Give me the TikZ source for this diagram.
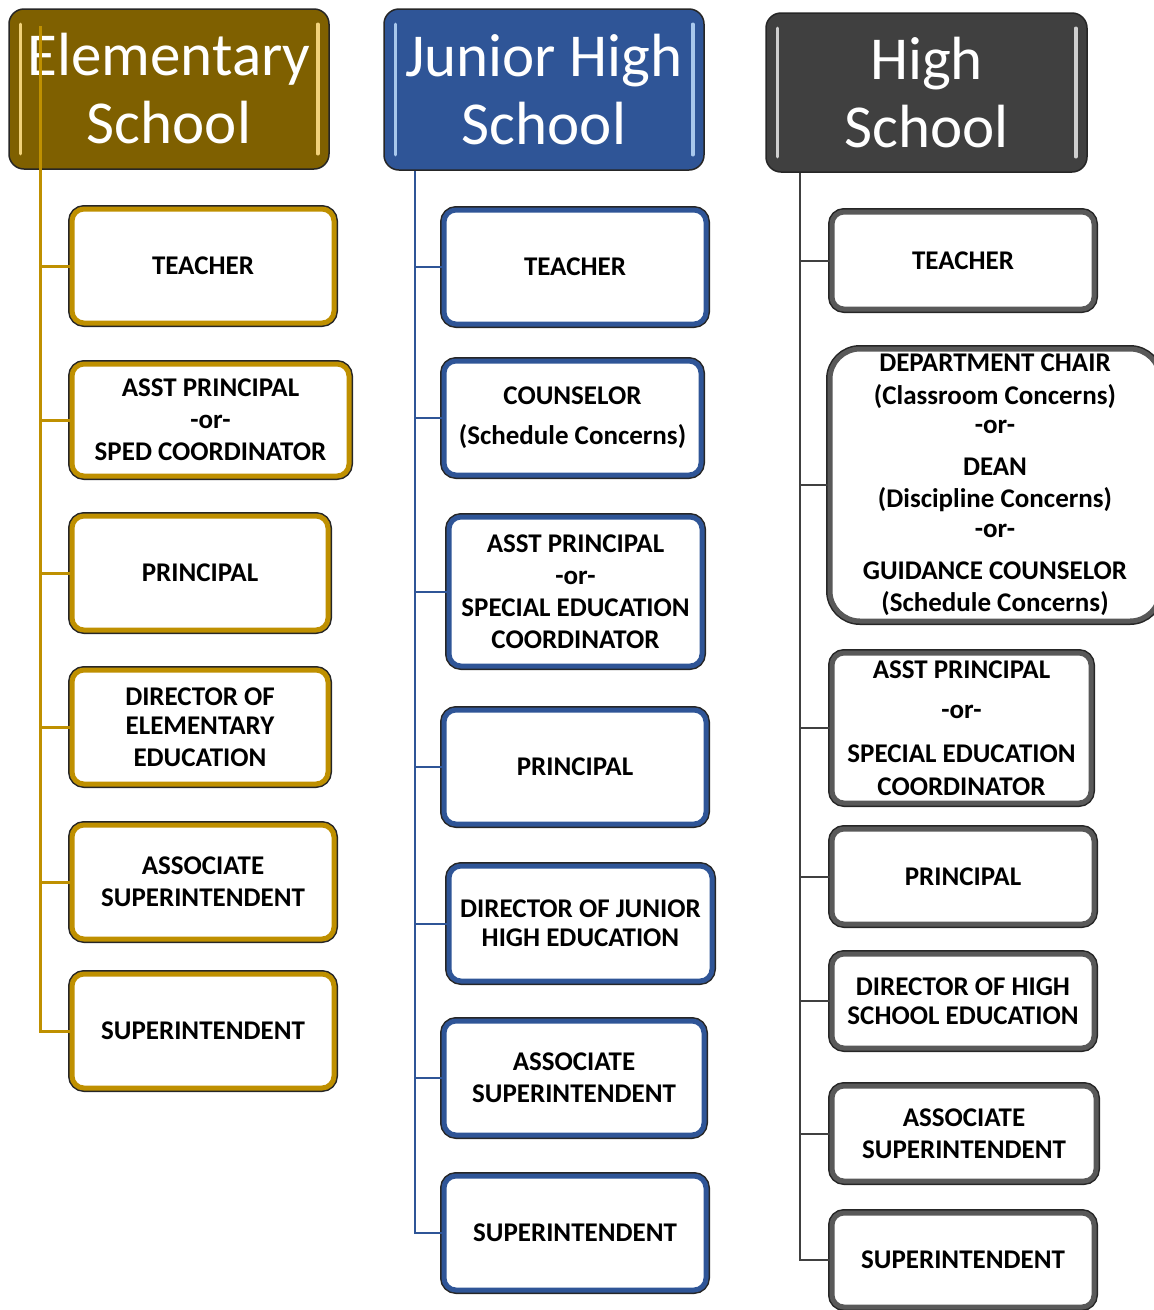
\documentclass[tikz,border=0pt]{standalone}
\usepackage{fontspec}
\setmainfont{Carlito}
\usepackage{tikz}
\usetikzlibrary{positioning}

\definecolor{elemgold}{HTML}{7F6000}
\definecolor{elemline}{HTML}{BF9000}
\definecolor{goldlight}{HTML}{F2D27A}
\definecolor{jrblue}{HTML}{2F5597}
\definecolor{jrlight}{HTML}{A9C8EC}
\definecolor{hsgray}{HTML}{404040}
\definecolor{hsline}{HTML}{595959}
\definecolor{graylight}{HTML}{CFCFCF}
\definecolor{edgedark}{HTML}{262626}

\begin{document}
\begin{tikzpicture}[x=1pt, y=-1pt,
	header/.style={fill=#1, draw=edgedark, line width=1.5pt, rounded corners=15pt, text=white, align=center, inner sep=0pt, font=\fontsize{61}{68}\selectfont},
	role/.style={fill=white, draw=#1, line width=5pt, rounded corners=12pt, align=center, inner sep=0pt, font=\fontsize{27}{32}\selectfont\bfseries, preaction={draw=edgedark, line width=8pt}},
	boxdim/.style 2 args={minimum width=#1pt, minimum height=#2pt},
	shine/.style={draw=#1, line width=3.5pt, line cap=round},
	link/.style={draw=#1, line width=2pt}]

	\useasboundingbox (0,0) rectangle (1154,1310);

	\node[header=elemgold, boxdim={320}{160}] (hE) at (169,89) {Elementary\\School};
	\node[header=jrblue, boxdim={320}{161}] (hJ) at (544,89.5) {Junior High\\School};
	\node[header=hsgray, boxdim={321}{159}] (hH) at (926.5,92.5) {High\\School};

	\draw[shine=goldlight] ([xshift=12pt,yshift=-16pt]hE.north west) -- ([xshift=12pt,yshift=16pt]hE.south west);
	\draw[shine=goldlight] ([xshift=-12pt,yshift=-16pt]hE.north east) -- ([xshift=-12pt,yshift=16pt]hE.south east);
	\draw[shine=jrlight] ([xshift=12pt,yshift=-16pt]hJ.north west) -- ([xshift=12pt,yshift=16pt]hJ.south west);
	\draw[shine=jrlight] ([xshift=-12pt,yshift=-16pt]hJ.north east) -- ([xshift=-12pt,yshift=16pt]hJ.south east);
	\draw[shine=graylight] ([xshift=12pt,yshift=-16pt]hH.north west) -- ([xshift=12pt,yshift=16pt]hH.south west);
	\draw[shine=graylight] ([xshift=-12pt,yshift=-16pt]hH.north east) -- ([xshift=-12pt,yshift=16pt]hH.south east);

	\node[role=elemline, boxdim={262}{114}] (e1) at (203,266) {TEACHER};
	\node[role=elemline, boxdim={277}{112}] (e2) at (210.5,420) {ASST PRINCIPAL\\-or-\\SPED COORDINATOR};
	\node[role=elemline, boxdim={256}{114}] (e3) at (200,573) {PRINCIPAL};
	\node[role=elemline, boxdim={256}{114}] (e4) at (200,727) {DIRECTOR OF\\[-3pt]ELEMENTARY\\EDUCATION};
	\node[role=elemline, boxdim={262}{114}] (e5) at (203,882) {ASSOCIATE\\SUPERINTENDENT};
	\node[role=elemline, boxdim={262}{114}] (e6) at (203,1031) {SUPERINTENDENT};

	\node[role=jrblue, boxdim={262}{114}] (j1) at (575,267) {TEACHER};
	\node[role=jrblue, boxdim={257}{114}] (j2) at (572.5,418) {COUNSELOR\\[8pt](Schedule Concerns)};
	\node[role=jrblue, boxdim={253}{149}] (j3) at (575.5,591.5) {ASST PRINCIPAL\\-or-\\SPECIAL EDUCATION\\COORDINATOR};
	\node[role=jrblue, boxdim={262}{114}] (j4) at (575,767) {PRINCIPAL};
	\node[role=jrblue, boxdim={263}{115}] (j5) at (580.5,923.5) {DIRECTOR OF JUNIOR\\[-3pt]HIGH EDUCATION};
	\node[role=jrblue, boxdim={260}{114}] (j6) at (574,1078) {ASSOCIATE\\SUPERINTENDENT};
	\node[role=jrblue, boxdim={262}{114}] (j7) at (575,1233) {SUPERINTENDENT};

	\node[role=hsline, boxdim={262}{97}] (h1) at (963,260.5) {TEACHER};
	\node[role=hsline, boxdim={330}{272}, rounded corners=30pt] (h2) at (995,485) {DEPARTMENT CHAIR\\[1pt](Classroom Concerns)\\[-3pt]-or-\\[10pt]DEAN\\(Discipline Concerns)\\[-2pt]-or-\\[10pt]GUIDANCE COUNSELOR\\(Schedule Concerns)};
	\node[role=hsline, boxdim={259}{150}] (h3) at (961.5,728) {ASST PRINCIPAL\\[8pt]-or-\\[12pt]SPECIAL EDUCATION\\[1pt]COORDINATOR};
	\node[role=hsline, boxdim={262}{95}] (h4) at (963,876.5) {PRINCIPAL};
	\node[role=hsline, boxdim={262}{94}] (h5) at (963,1001) {DIRECTOR OF HIGH\\[-3pt]SCHOOL EDUCATION};
	\node[role=hsline, boxdim={264}{95}] (h6) at (964,1133.5) {ASSOCIATE\\SUPERINTENDENT};
	\node[role=hsline, boxdim={262}{94}] (h7) at (963,1260) {SUPERINTENDENT};

	\coordinate (eTop) at (40,26);
	\coordinate (jTop) at (415,171);
	\coordinate (hTop) at (800,173);

	\draw[link=elemline, line width=3pt] (eTop) |- (e6.west);
	\foreach \n in {e1,e2,e3,e4,e5}
		\draw[link=elemline, line width=3pt] (\n.west -| eTop) -- (\n.west);

	\draw[link=jrblue] (jTop) |- (j7.west);
	\foreach \n in {j1,j2,j3,j4,j5,j6}
		\draw[link=jrblue] (\n.west -| jTop) -- (\n.west);

	\draw[link=hsgray] (hTop) |- (h7.west);
	\foreach \n in {h1,h2,h3,h4,h5,h6}
		\draw[link=hsgray] (\n.west -| hTop) -- (\n.west);
\end{tikzpicture}
\end{document}
